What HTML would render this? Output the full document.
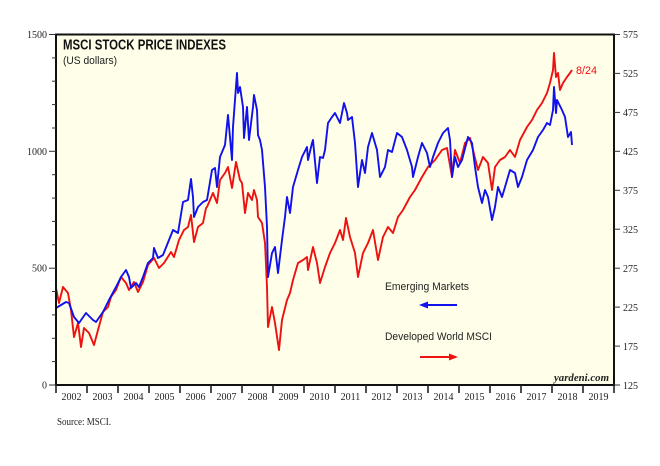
<!DOCTYPE html>
<html><head><meta charset="utf-8"><style>
html,body{margin:0;padding:0;background:#fff;}
svg{display:block;}
.s{font-family:"Liberation Serif",serif;font-size:10px;fill:#222;}
.a{font-family:"Liberation Sans",sans-serif;}
</style></head><body>
<svg width="660" height="466" viewBox="0 0 660 466" xmlns="http://www.w3.org/2000/svg">
<rect x="0" y="0" width="660" height="466" fill="#fff"/>
<rect x="56" y="34.5" width="558" height="350.5" fill="#fffee9"/>

<!-- series -->
<polyline fill="none" stroke="#ee1111" stroke-width="1.9" stroke-linejoin="round" points="56,288 59,303 63,287 68,293 71,310 74,337 78,323 81,347 84,328 89,333 94,345 98,330 103,312 108,307 111,297 116,290 121,277 126,283 129,290 134,282 138,292 143,282 148,265 154,258 159,268 164,263 171,252 174,257 179,240 184,230 188,227 191,215 194,242 198,227 203,223 206,208 207,207 213,193 217,203 220,180 225,173 228,167 232,188 236,162 240,180 242,183 245,213 248,193 252,200 254,190 257,200 258,217 262,223 265,243 267,287 268,327 272,307 275,323 279,350 282,320 287,300 290,293 293,280 298,263 303,260 307,257 308,270 313,247 317,263 320,283 325,267 330,253 335,243 340,230 343,240 346,218 350,237 355,253 358,277 363,253 368,243 373,230 378,260 383,237 388,227 393,233 398,217 403,210 410,197 415,190 422,177 428,167 435,160 442,150 447,148 452,177 455,150 460,163 465,143 470,138 473,150 478,170 483,157 488,163 492,190 495,167 500,160 505,157 510,150 515,157 520,140 527,127 532,120 537,110 542,103 547,93 550,83 553,70 554,53 556,77 558,73 560,90 563,83 567,77 570,73 572,70"/>
<polyline fill="none" stroke="#1111ee" stroke-width="1.9" stroke-linejoin="round" points="56,308 66,302 69,303 74,317 79,323 86,313 93,320 96,322 103,312 109,300 116,287 121,277 126,270 129,277 131,288 136,283 139,287 143,277 148,263 153,258 154,248 158,258 163,255 169,240 173,230 178,233 183,202 188,200 191,179 193,197 194,217 198,207 203,202 207,200 212,170 215,168 217,187 220,157 225,145 228,115 232,160 233,127 237,73 238,93 240,87 243,107 244,138 247,107 249,140 253,107 254,95 257,110 258,135 260,140 262,150 265,187 267,227 268,277 272,253 275,247 278,273 282,240 285,217 287,197 290,213 293,187 298,170 302,157 307,147 308,160 312,143 313,140 317,183 320,157 323,158 325,150 328,123 332,117 335,113 340,123 344,103 347,113 348,120 352,117 355,143 358,187 362,160 365,173 368,147 372,133 377,150 380,177 385,167 388,150 392,152 397,133 402,137 407,150 412,167 413,177 418,157 422,143 427,153 430,167 433,157 438,143 443,133 448,128 450,140 452,177 455,157 458,167 462,160 468,137 472,143 475,167 478,187 482,203 485,190 488,197 492,220 495,207 498,187 502,197 505,187 510,170 515,173 518,187 522,177 527,160 533,150 538,137 543,130 547,123 550,125 553,110 554,87 556,113 557,100 562,110 565,117 568,137 571,132 572,145"/>

<!-- frame -->
<rect x="56" y="34.5" width="558" height="350.5" fill="none" stroke="#111" stroke-width="2"/>

<!-- left ticks -->
<g stroke="#333" stroke-width="1">
<line x1="49" y1="34.5" x2="56" y2="34.5"/>
<line x1="52" y1="57.9" x2="56" y2="57.9"/>
<line x1="52" y1="81.2" x2="56" y2="81.2"/>
<line x1="52" y1="104.6" x2="56" y2="104.6"/>
<line x1="52" y1="128" x2="56" y2="128"/>
<line x1="49" y1="151.3" x2="56" y2="151.3"/>
<line x1="52" y1="174.7" x2="56" y2="174.7"/>
<line x1="52" y1="198.1" x2="56" y2="198.1"/>
<line x1="52" y1="221.4" x2="56" y2="221.4"/>
<line x1="52" y1="244.8" x2="56" y2="244.8"/>
<line x1="49" y1="268.2" x2="56" y2="268.2"/>
<line x1="52" y1="291.5" x2="56" y2="291.5"/>
<line x1="52" y1="314.9" x2="56" y2="314.9"/>
<line x1="52" y1="338.3" x2="56" y2="338.3"/>
<line x1="52" y1="361.6" x2="56" y2="361.6"/>
<line x1="49" y1="385" x2="56" y2="385"/>
</g>
<g class="s" text-anchor="end">
<text x="47" y="38">1500</text>
<text x="47" y="154.8">1000</text>
<text x="47" y="271.7">500</text>
<text x="47" y="388.5">0</text>
</g>

<!-- right ticks -->
<g stroke="#333" stroke-width="1">
<line x1="614" y1="34.5" x2="620" y2="34.5"/>
<line x1="614" y1="73.4" x2="620" y2="73.4"/>
<line x1="614" y1="112.4" x2="620" y2="112.4"/>
<line x1="614" y1="151.3" x2="620" y2="151.3"/>
<line x1="614" y1="190.3" x2="620" y2="190.3"/>
<line x1="614" y1="229.2" x2="620" y2="229.2"/>
<line x1="614" y1="268.2" x2="620" y2="268.2"/>
<line x1="614" y1="307.1" x2="620" y2="307.1"/>
<line x1="614" y1="346.1" x2="620" y2="346.1"/>
<line x1="614" y1="385" x2="620" y2="385"/>
</g>
<g class="s">
<text x="623" y="38">575</text>
<text x="623" y="77">525</text>
<text x="623" y="116">475</text>
<text x="623" y="155">425</text>
<text x="623" y="194">375</text>
<text x="623" y="233">325</text>
<text x="623" y="272">275</text>
<text x="623" y="311">225</text>
<text x="623" y="350">175</text>
<text x="623" y="389">125</text>
</g>

<!-- x ticks -->
<g stroke="#222" stroke-width="1.6">
<line x1="56" y1="385" x2="56" y2="393"/><line x1="87" y1="385" x2="87" y2="393"/>
<line x1="118" y1="385" x2="118" y2="393"/><line x1="149" y1="385" x2="149" y2="393"/>
<line x1="180" y1="385" x2="180" y2="393"/><line x1="211" y1="385" x2="211" y2="393"/>
<line x1="242" y1="385" x2="242" y2="393"/><line x1="273" y1="385" x2="273" y2="393"/>
<line x1="304" y1="385" x2="304" y2="393"/><line x1="335" y1="385" x2="335" y2="393"/>
<line x1="366" y1="385" x2="366" y2="393"/><line x1="397" y1="385" x2="397" y2="393"/>
<line x1="428" y1="385" x2="428" y2="393"/><line x1="459" y1="385" x2="459" y2="393"/>
<line x1="490" y1="385" x2="490" y2="393"/><line x1="521" y1="385" x2="521" y2="393"/>
<line x1="552" y1="385" x2="552" y2="393"/><line x1="583" y1="385" x2="583" y2="393"/>
<line x1="614" y1="385" x2="614" y2="393"/>
</g>
<g class="s" text-anchor="middle">
<text x="71.5" y="400">2002</text><text x="102.5" y="400">2003</text>
<text x="133.5" y="400">2004</text><text x="164.5" y="400">2005</text>
<text x="195.5" y="400">2006</text><text x="226.5" y="400">2007</text>
<text x="257.5" y="400">2008</text><text x="288.5" y="400">2009</text>
<text x="319.5" y="400">2010</text><text x="350.5" y="400">2011</text>
<text x="381.5" y="400">2012</text><text x="412.5" y="400">2013</text>
<text x="443.5" y="400">2014</text><text x="474.5" y="400">2015</text>
<text x="505.5" y="400">2016</text><text x="536.5" y="400">2017</text>
<text x="567.5" y="400">2018</text><text x="598.5" y="400">2019</text>
</g>

<text class="s" x="57" y="425" textLength="54" lengthAdjust="spacingAndGlyphs">Source: MSCI.</text>

<!-- titles -->
<text class="a" x="63" y="49.5" font-size="14.5" font-weight="bold" fill="#111" textLength="163" lengthAdjust="spacingAndGlyphs">MSCI STOCK PRICE INDEXES</text>
<text class="a" x="63" y="64" font-size="11" fill="#222" textLength="54" lengthAdjust="spacingAndGlyphs">(US dollars)</text>

<text x="554" y="381" font-family="Liberation Serif,serif" font-style="italic" font-weight="bold" font-size="11" fill="#222" textLength="55" lengthAdjust="spacingAndGlyphs">yardeni.com</text>

<text class="a" x="576" y="74" font-size="11" fill="#ee1111" textLength="21" lengthAdjust="spacingAndGlyphs">8/24</text>

<!-- legend -->
<text class="a" x="385" y="290" font-size="11" fill="#222" textLength="84" lengthAdjust="spacingAndGlyphs">Emerging Markets</text>
<line x1="426" y1="305" x2="457" y2="305" stroke="#1111ee" stroke-width="2"/>
<polygon points="419,305 428,301.5 428,308.5" fill="#1111ee"/>
<text class="a" x="385" y="340" font-size="11" fill="#222" textLength="107" lengthAdjust="spacingAndGlyphs">Developed World MSCI</text>
<line x1="420" y1="357" x2="451" y2="357" stroke="#ee1111" stroke-width="2"/>
<polygon points="458,357 449,353.5 449,360.5" fill="#ee1111"/>
</svg>
</body></html>
